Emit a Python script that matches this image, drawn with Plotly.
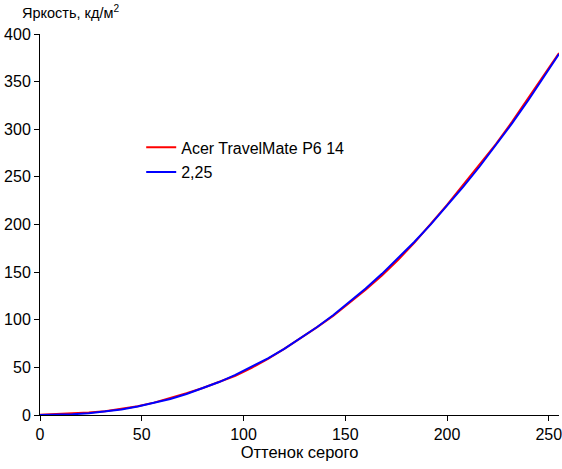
import plotly.graph_objects as go

# Оттенок серого (входной уровень)
gray_levels = [0, 8, 16, 24, 32, 40, 48, 56, 64, 72, 80, 88, 96, 104, 112, 120, 128,
               136, 144, 152, 160, 168, 176, 184, 192, 200, 208, 216, 224, 232, 240, 248, 255]

# Измеренная яркость, кд/м2
acer_values = [0.3, 0.8, 1.5, 2.5, 4.0, 6.2, 9.2, 13.0, 17.6, 22.8, 28.3, 34.5, 41.2, 49.5,
               59.0, 69.5, 80.5, 92.0, 104.0, 117.5, 131.5, 146.5, 163.0, 181.0, 200.5,
               220.5, 242.0, 263.0, 284.5, 308.0, 333.5, 358.0, 380.0]

# Опорная кривая гаммы 2,25
gamma_values = [0.0, 0.16, 0.75, 1.86, 3.55, 5.87, 8.84, 12.51, 16.89, 22.02, 27.91, 34.59,
                42.08, 50.37, 59.52, 69.52, 80.39, 92.14, 104.78, 118.32, 132.80, 148.19,
                164.55, 181.87, 200.15, 219.41, 239.67, 260.88, 283.15, 306.38, 330.68,
                355.99, 379.0]

x_ticks = [0, 50, 100, 150, 200, 250]
y_ticks = [0, 50, 100, 150, 200, 250, 300, 350, 400]

FONT = "Liberation Sans, Arial, sans-serif"

fig = go.Figure()
fig.add_trace(go.Scatter(x=gray_levels, y=acer_values, mode="lines",
                         name="Acer TravelMate P6 14", legendgroup="a",
                         line=dict(color="#ff0000", width=2)))
fig.add_trace(go.Scatter(x=gray_levels, y=gamma_values, mode="lines",
                         name="2,25", legendgroup="b",
                         line=dict(color="#0000ff", width=2)))

fig.update_layout(
    width=562, height=469,
    margin=dict(l=40, r=3, t=34, b=54, autoexpand=False),
    paper_bgcolor="white", plot_bgcolor="white",
    font=dict(family=FONT, size=15, color="#000000"),
    showlegend=True,
    legend=dict(x=0.195, y=0.747, xanchor="left", yanchor="top",
                bgcolor="rgba(0,0,0,0)", itemwidth=30, tracegroupgap=1,
                font=dict(family=FONT, size=16, color="#000000")),
    xaxis=dict(range=[0, 255], tickvals=x_ticks, showgrid=False, zeroline=False,
               showline=True, linecolor="black", linewidth=1, automargin=False,
               ticks="outside", ticklen=5, tickcolor="black", ticklabeloverflow="allow",
               tickfont=dict(family=FONT, size=16, color="#000000"),
               title=dict(text="Оттенок серого", standoff=4,
                          font=dict(family=FONT, size=16.5, color="#000000"))),
    yaxis=dict(range=[0, 400], tickvals=y_ticks, showgrid=False, zeroline=False,
               showline=True, linecolor="black", linewidth=1, automargin=False,
               ticks="outside", ticklen=5, tickcolor="black", ticklabeloverflow="allow",
               tickfont=dict(family=FONT, size=16, color="#000000")),
    annotations=[dict(text="Яркость, кд/м<sup>2</sup>", xref="paper", yref="paper",
                      x=-20 / 519, y=1, xanchor="left", yanchor="bottom", yshift=11,
                      showarrow=False,
                      font=dict(family=FONT, size=14.5, color="#000000"))],
)

# убираем стандартный отступ страницы, чтобы график стоял с левого верхнего угла
fig.write_html("out.html", config={"displayModeBar": False},
               post_script="document.body.style.margin='0';")
